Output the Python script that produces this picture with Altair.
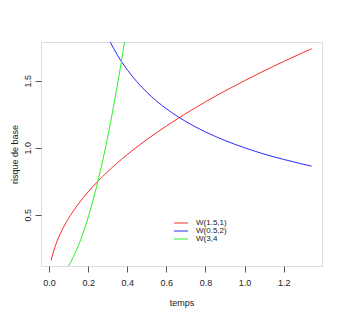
import altair as alt
import pandas as pd

series_names = ["W(1.5,1)", "W(0.5,2)", "W(3,4"]
series_colors = ["#ff2a2a", "#2a2aff", "#2aee2a"]

t_red = [0.01, 0.02, 0.04, 0.06, 0.08, 0.10, 0.15, 0.20, 0.25, 0.30, 0.40, 0.50,
         0.60, 0.70, 0.80, 0.90, 1.00, 1.10, 1.20, 1.30, 1.343]
h_red = [0.16, 0.212, 0.30, 0.367, 0.424, 0.474, 0.581, 0.671, 0.75, 0.822, 0.949, 1.061,
         1.162, 1.255, 1.342, 1.423, 1.50, 1.573, 1.643, 1.710, 1.738]

t_blue = [0.25, 0.28, 0.30, 0.33, 0.35, 0.40, 0.45, 0.50, 0.55, 0.60, 0.70, 0.80,
          0.90, 1.00, 1.10, 1.20, 1.30, 1.343]
h_blue = [2.00, 1.89, 1.826, 1.741, 1.690, 1.581, 1.491, 1.414, 1.348, 1.291, 1.195, 1.118,
          1.054, 1.00, 0.953, 0.913, 0.877, 0.863]

t_green = [0.08, 0.10, 0.12, 0.15, 0.18, 0.20, 0.22, 0.25, 0.28, 0.30, 0.33, 0.36, 0.39, 0.42]
h_green = [0.077, 0.12, 0.173, 0.27, 0.389, 0.48, 0.581, 0.75, 0.941, 1.08, 1.307, 1.555, 1.825, 2.117]

x_ticks = [0.0, 0.2, 0.4, 0.6, 0.8, 1.0, 1.2]
y_ticks = [0.5, 1.0, 1.5]

rows = []
for name, ts, hs in [(series_names[0], t_red, h_red),
                     (series_names[1], t_blue, h_blue),
                     (series_names[2], t_green, h_green)]:
    for i, (t, h) in enumerate(zip(ts, hs)):
        rows.append({"serie": name, "t": t, "h": h, "i": i})
df = pd.DataFrame(rows)

font = "Liberation Sans"

chart = alt.Chart(df).mark_line(clip=True, strokeWidth=1, interpolate="monotone").encode(
    x=alt.X("t:Q", scale=alt.Scale(domain=[-0.041, 1.396], nice=False, zero=False),
            axis=alt.Axis(values=x_ticks, format=".1f", title="temps", grid=False, domain=False,
                          tickSize=6, tickColor="#555", labelPadding=6, labelFontSize=9,
                          labelFont=font, labelColor="#222", titleFont=font, titleFontSize=9,
                          titleFontWeight="normal", titleColor="#222", titleX=140.5, titleY=36,
                          titleBaseline="middle", labelFlush=False)),
    y=alt.Y("h:Q", scale=alt.Scale(domain=[0.119, 1.788], nice=False, zero=False),
            axis=alt.Axis(values=y_ticks, format=".1f", title="risque de base", grid=False,
                          domain=False, tickSize=6, tickColor="#555", labelAngle=-90,
                          labelAlign="center", labelBaseline="bottom", labelPadding=3,
                          labelFontSize=9, labelFont=font, labelColor="#222", titleFont=font,
                          titleFontSize=9, titleFontWeight="normal", titleColor="#222",
                          titleX=-27, titleY=112, titleAngle=-90, titleBaseline="middle",
                          labelFlush=False)),
    color=alt.Color("serie:N", scale=alt.Scale(domain=series_names, range=series_colors),
                    sort=series_names,
                    legend=alt.Legend(title=None, orient="none", legendX=136, legendY=177,
                                      symbolType="M-2.33,0H2.33", symbolSize=36,
                                      symbolStrokeWidth=1, symbolOpacity=1, symbolOffset=0,
                                      labelFont=font, labelFontSize=8, labelColor="#222",
                                      rowPadding=0, labelOffset=11, padding=0)),
    order="i:Q",
).properties(
    width=281, height=224,
    autosize=alt.AutoSizeParams(type="none"),
    padding={"left": 33, "top": 34, "right": 13, "bottom": 43},
).configure_view(stroke="#777", strokeWidth=1).configure(background="white")

chart.save("out.html", embed_options={"renderer": "svg", "actions": False})
